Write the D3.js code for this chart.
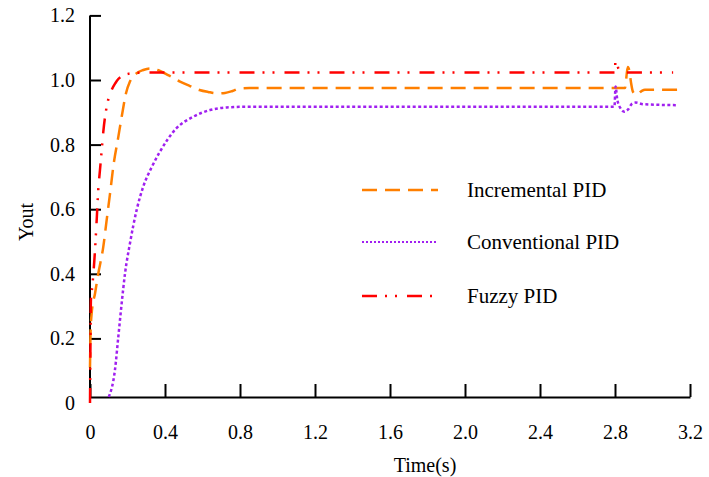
<!DOCTYPE html>
<html>
  <head>
    <title>PID step response</title>
    <script src="https://d3js.org/d3.v7.min.js"></script>
    <style>
      body { margin: 0; background: #fff; }
      text { font-family: "Liberation Serif", "Times New Roman", serif; }
    </style>
  </head>
  <body>
    <div id="chart"></div>
    <script>
      // values (time in s, output)
      var xTicks = [0, 0.4, 0.8, 1.2, 1.6, 2.0, 2.4, 2.8, 3.2];
      var xTickLabels = ["0", "0.4", "0.8", "1.2", "1.6", "2.0", "2.4", "2.8", "3.2"];
      var yTicks = [0, 0.2, 0.4, 0.6, 0.8, 1.0, 1.2];
      var yTickLabels = ["0", "0.2", "0.4", "0.6", "0.8", "1.0", "1.2"];

      var seriesNames = ["Incremental PID", "Conventional PID", "Fuzzy PID"];

      var incT = [0, 0.003, 0.009, 0.027, 0.044, 0.071, 0.089, 0.107, 0.125, 0.151, 0.169, 0.192, 0.213, 0.249, 0.284, 0.32, 0.36, 0.42, 0.48, 0.53, 0.584, 0.63, 0.676, 0.72, 0.76, 0.797, 0.85, 1.5, 2.8, 2.853, 2.868, 2.876, 2.886, 2.896, 2.915, 2.94, 2.96, 3.157];
      var incY = [0.11, 0.22, 0.278, 0.34, 0.40, 0.484, 0.567, 0.649, 0.735, 0.824, 0.886, 0.959, 0.995, 1.021, 1.031, 1.036, 1.031, 1.014, 0.995, 0.982, 0.969, 0.963, 0.959, 0.96, 0.966, 0.974, 0.975, 0.975, 0.975, 0.975, 1.04, 1.03, 0.99, 0.963, 0.954, 0.965, 0.97, 0.97];

      var convT = [0.1, 0.133, 0.151, 0.169, 0.187, 0.213, 0.249, 0.284, 0.329, 0.37, 0.46, 0.55, 0.64, 0.73, 0.82, 1.5, 2.797, 2.803, 2.812, 2.83, 2.85, 2.87, 2.89, 2.91, 2.95, 3.136];
      var convY = [0.019, 0.102, 0.205, 0.309, 0.402, 0.494, 0.598, 0.67, 0.73, 0.775, 0.85, 0.886, 0.907, 0.915, 0.917, 0.917, 0.917, 0.98, 0.94, 0.912, 0.902, 0.909, 0.926, 0.93, 0.925, 0.922];

      var fuzzyT = [0, 0.002, 0.005, 0.012, 0.023, 0.036, 0.044, 0.053, 0.062, 0.071, 0.08, 0.09, 0.1, 0.116, 0.135, 0.151, 0.175, 0.204, 0.25, 0.3, 1.0, 2.0, 2.8, 2.802, 2.808, 2.818, 2.83, 2.85, 3.11];
      var fuzzyY = [0, 0.15, 0.32, 0.36, 0.44, 0.57, 0.66, 0.72, 0.78, 0.84, 0.885, 0.92, 0.945, 0.97, 0.99, 1.003, 1.013, 1.019, 1.022, 1.023, 1.023, 1.023, 1.023, 1.057, 1.057, 1.035, 1.027, 1.023, 1.023];

      var W = 709, H = 477;
      var svg = d3.select('#chart').append('svg')
        .attr('width', W).attr('height', H);

      var x = d3.scaleLinear().domain([0, 3.2]).range([90, 690]);
      var y = d3.scaleLinear().domain([0, 1.2]).range([403, 15.4]);
      var axisY = y(0) - 6;  // x axis sits a bit above zero in the original

      // x axis
      var gx = svg.append('g')
        .attr('transform', 'translate(0,' + axisY + ')')
        .call(d3.axisBottom(x).tickValues(xTicks)
          .tickFormat(function (d, i) { return xTickLabels[i]; })
          .tickSize(-13).tickSizeOuter(0).tickPadding(28));

      // y axis
      var gy = svg.append('g')
        .attr('transform', 'translate(90,0)')
        .call(d3.axisLeft(y).tickValues(yTicks)
          .tickFormat(function (d, i) { return yTickLabels[i]; })
          .tickSize(-11).tickSizeOuter(0).tickPadding(15));
      gy.select('.domain').remove();
      gy.selectAll('.tick').filter(function (d) { return d === 0; }).select('line').remove();
      svg.append('line')
        .attr('x1', 90).attr('x2', 90)
        .attr('y1', axisY).attr('y2', y(1.2))
        .attr('stroke', '#000').attr('stroke-width', 2);

      svg.selectAll('.domain, .tick line').attr('stroke', '#000').attr('stroke-width', 2);
      svg.selectAll('.tick text').attr('font-size', 20).attr('fill', '#000')
        .style('font-family', '"Liberation Serif", "Times New Roman", serif');

      svg.append('text')
        .attr('x', 425).attr('y', 472)
        .attr('text-anchor', 'middle').attr('font-size', 20)
        .text('Time(s)');
      svg.append('text')
        .attr('transform', 'translate(33,222) rotate(-90)')
        .attr('text-anchor', 'middle').attr('font-size', 20)
        .text('Yout');

      var styles = [
        { color: '#FF7F00', dash: '15,8', width: 2.5 },
        { color: '#A020F0', dash: '3,2.5', width: 2.5 },
        { color: '#FF0000', dash: '15,8,2,8,2,10', width: 2.5 }
      ];

      var line = d3.line()
        .x(function (d) { return x(d[0]); })
        .y(function (d) { return y(d[1]); })
        .curve(d3.curveMonotoneX);

      var series = [d3.zip(incT, incY), d3.zip(convT, convY), d3.zip(fuzzyT, fuzzyY)];
      series.forEach(function (s, i) {
        svg.append('path')
          .datum(s)
          .attr('d', line)
          .attr('fill', 'none')
          .attr('stroke', styles[i].color)
          .attr('stroke-width', styles[i].width)
          .attr('stroke-dasharray', styles[i].dash);
      });

      // legend
      var legY = [190, 242, 296];
      seriesNames.forEach(function (name, i) {
        svg.append('line')
          .attr('x1', 362).attr('x2', 438)
          .attr('y1', legY[i]).attr('y2', legY[i])
          .attr('stroke', styles[i].color)
          .attr('stroke-width', i === 1 ? 2 : 2.5)
          .attr('stroke-dasharray', i === 1 ? '2,2' : styles[i].dash);
        svg.append('text')
          .attr('x', 467).attr('y', legY[i]).attr('dy', '0.35em')
          .attr('font-size', 21)
          .text(name);
      });
    </script>
  </body>
</html>
